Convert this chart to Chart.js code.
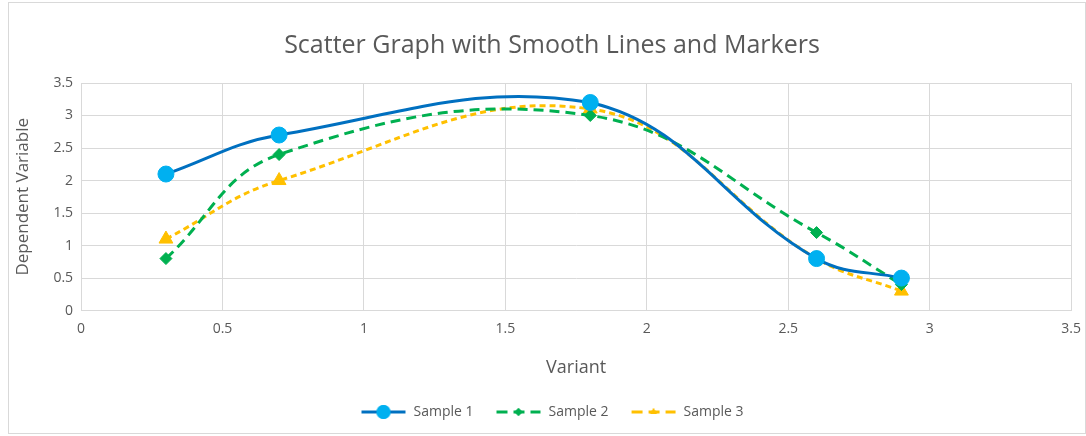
<!DOCTYPE html>
<html>
<head>
<meta charset="utf-8">
<script src="https://cdn.jsdelivr.net/npm/chart.js@4/dist/chart.umd.min.js"></script>
<style>
  html, body { margin: 0; padding: 0; background: #fff; overflow: hidden; }
  #frame { position: absolute; left: 8px; top: 2px; width: 1078px; height: 432px; border: 1px solid #D9D9D9; box-sizing: border-box; }
  #wrap { position: absolute; left: 9px; top: 3px; width: 1082px; height: 430px; }
</style>
</head>
<body>
<div id="frame"></div>
<div id="wrap"><canvas id="chart"></canvas></div>
<script>
// data
const xValues = [0.3, 0.7, 1.8, 2.6, 2.9];
const sample1 = [2.1, 2.7, 3.2, 0.8, 0.5];
const sample2 = [0.8, 2.4, 3.0, 1.2, 0.4];
const sample3 = [1.1, 2.0, 3.1, 0.8, 0.3];
const seriesNames = ['Sample 1', 'Sample 2', 'Sample 3'];

const toPoints = ys => ys.map((y, i) => ({ x: xValues[i], y: y }));

const styles = [
  { line: '#0070C0', fill: '#00B0F0', dash: [], marker: 'circle', r: 8 },
  { line: '#00B050', fill: '#00B050', dash: [10, 6], marker: 'rectRot', r: 6 },
  { line: '#FFC000', fill: '#FFC000', dash: [6, 4], marker: 'triangle', r: 8 }
];

// small canvas for the legend: line segment with the marker in the middle
function legendIcon(s) {
  const c = document.createElement('canvas');
  c.width = 46; c.height = 18;
  const g = c.getContext('2d');
  g.strokeStyle = s.line; g.lineWidth = 3;
  g.setLineDash(s.dash.length ? [11, 6] : []);
  g.beginPath(); g.moveTo(1, 9); g.lineTo(45, 9); g.stroke();
  g.setLineDash([]);
  g.fillStyle = s.fill;
  const r = s.marker === 'circle' ? 7 : 4;
  Chart.helpers.drawPoint(g, { pointStyle: s.marker, radius: r, rotation: 0 }, 23, 9);
  g.fill();
  return c;
}

const numLabel = v => String(v);

const allSeries = [sample1, sample2, sample3];
const datasets = allSeries.map((ys, i) => ({
  label: seriesNames[i],
  data: toPoints(ys),
  showLine: true,
  borderColor: styles[i].line,
  borderWidth: 3,
  borderDash: styles[i].dash,
  tension: 0.4,
  pointStyle: styles[i].marker,
  pointRadius: styles[i].r,
  pointBackgroundColor: styles[i].fill,
  pointBorderColor: styles[i].fill,
  pointBorderWidth: 1
}));

new Chart(document.getElementById('chart'), {
  type: 'scatter',
  data: { datasets: datasets },
  options: {
    responsive: true,
    maintainAspectRatio: false,
    animation: false,
    layout: { padding: { left: 4, right: 0, top: 6, bottom: 4 } },
    plugins: {
      title: {
        display: true,
        text: 'Scatter Graph with Smooth Lines and Markers',
        color: '#595959',
        font: { family: 'Open Sans', size: 25, weight: 'normal' },
        padding: { top: 22, bottom: 22 }
      },
      legend: {
        position: 'bottom',
        labels: {
          color: '#595959',
          font: { family: 'Open Sans', size: 14 },
          usePointStyle: true,
          pointStyleWidth: 46,
          boxHeight: 14,
          padding: 22,
          generateLabels: chart => chart.data.datasets.map((d, i) => ({
            text: d.label,
            pointStyle: legendIcon(styles[i]),
            fontColor: '#595959',
            datasetIndex: i,
            lineWidth: 0
          }))
        }
      },
      tooltip: { enabled: false }
    },
    scales: {
      x: {
        type: 'linear',
        min: 0, max: 3.5,
        ticks: { stepSize: 0.5, color: '#595959', font: { family: 'Open Sans', size: 14 }, padding: 10, callback: numLabel },
        grid: { color: '#D9D9D9', drawTicks: false },
        border: { color: '#D9D9D9' },
        title: { display: true, text: 'Variant', color: '#595959', font: { family: 'Open Sans', size: 18 }, padding: { top: 10, bottom: 4 } }
      },
      y: {
        min: 0, max: 3.5,
        ticks: { stepSize: 0.5, color: '#595959', font: { family: 'Open Sans', size: 14 }, padding: 8, callback: numLabel },
        grid: { color: '#D9D9D9', drawTicks: false },
        border: { color: '#D9D9D9' },
        title: { display: true, text: 'Dependent Variable', color: '#595959', font: { family: 'Open Sans', size: 17 }, padding: { top: 0, bottom: 12 } }
      }
    }
  }
});
</script>
</body>
</html>
